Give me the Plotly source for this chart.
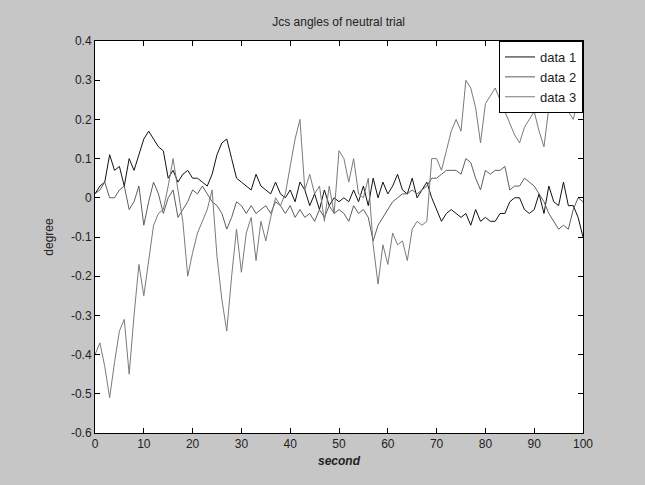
import plotly.graph_objects as go

seconds = list(range(0, 101))

data1 = [0.01, 0.03, 0.04, 0.11, 0.07, 0.08, 0.03, 0.10, 0.07, 0.11,
         0.15, 0.17, 0.15, 0.13, 0.12, 0.05, 0.07, 0.04, 0.06, 0.07,
         0.05, 0.05, 0.04, 0.03, 0.06, 0.11, 0.14, 0.15, 0.10, 0.05,
         0.04, 0.03, 0.02, 0.06, 0.03, 0.02, 0.01, 0.04, 0.01, 0.00,
         0.02, -0.01, 0.04, 0.02, -0.02, 0.01, -0.03, 0.02, -0.02, 0.00,
         -0.01, 0.00, -0.01, 0.02, -0.01, 0.03, -0.02, 0.05, 0.00, 0.04,
         0.01, 0.03, 0.06, 0.02, 0.01, 0.05, 0.00, 0.02, 0.04, 0.00,
         -0.03, -0.06, -0.04, -0.03, -0.04, -0.05, -0.04, -0.07, -0.03, -0.06,
         -0.05, -0.06, -0.06, -0.04, -0.04, -0.01, 0.00, 0.00, -0.03, -0.04,
         -0.03, 0.01, -0.04, 0.03, -0.01, -0.02, 0.04, -0.02, -0.02, -0.05,
         -0.10]

data2 = [0.01, 0.02, 0.04, 0.00, 0.00, 0.02, 0.03, -0.03, -0.01, 0.03,
         -0.07, -0.01, 0.04, 0.01, -0.04, 0.00, 0.02, -0.05, -0.03, -0.01,
         0.02, 0.01, 0.03, 0.01, -0.01, -0.02, -0.04, -0.08, -0.05, -0.01,
         -0.02, -0.04, -0.02, -0.04, -0.03, -0.02, -0.04, -0.01, -0.02, -0.04,
         -0.02, -0.05, -0.03, -0.05, -0.04, -0.06, -0.03, -0.05, -0.02, -0.04,
         -0.03, -0.04, -0.06, -0.02, -0.04, -0.03, -0.05, -0.11, -0.07, -0.05,
         -0.03, -0.01, 0.00, 0.01, 0.01, 0.02, 0.01, 0.02, 0.03, 0.05,
         0.05, 0.06, 0.07, 0.07, 0.07, 0.06, 0.10, 0.09, 0.05, 0.02,
         0.07, 0.06, 0.07, 0.07, 0.08, 0.02, 0.03, 0.03, 0.05, 0.04,
         0.03, 0.01, -0.01, -0.04, -0.06, -0.08, -0.07, -0.08, -0.03, 0.00,
         -0.01]

data3 = [-0.40, -0.37, -0.43, -0.51, -0.42, -0.34, -0.31, -0.45, -0.30, -0.17,
         -0.25, -0.16, -0.07, -0.04, -0.03, 0.03, 0.10, 0.02, -0.06, -0.20,
         -0.14, -0.09, -0.06, -0.03, 0.02, -0.15, -0.26, -0.34, -0.20, -0.08,
         -0.19, -0.09, -0.05, -0.16, -0.06, -0.11, -0.05, 0.00, -0.02, 0.01,
         0.08, 0.15, 0.20, 0.02, 0.06, 0.01, 0.03, -0.06, 0.03, -0.04,
         0.12, 0.10, 0.04, 0.10, 0.01, 0.00, 0.05, -0.12, -0.22, -0.12,
         -0.17, -0.09, -0.12, -0.11, -0.16, -0.08, -0.06, -0.07, -0.06, 0.10,
         0.10, 0.07, 0.12, 0.17, 0.20, 0.17, 0.30, 0.28, 0.23, 0.14,
         0.24, 0.26, 0.28, 0.25, 0.22, 0.19, 0.16, 0.14, 0.18, 0.20,
         0.22, 0.17, 0.13, 0.23, 0.28, 0.27, 0.25, 0.22, 0.20, 0.25,
         0.29]

series = [("data 1", data1, "#111111"),
          ("data 2", data2, "#5e5e5e"),
          ("data 3", data3, "#7a7a7a")]

fig = go.Figure()
for name, vals, col in series:
    fig.add_trace(go.Scatter(x=seconds, y=vals, mode="lines", name=name,
                             line=dict(color=col, width=1)))

axis_common = dict(showgrid=False, zeroline=False, showline=True, mirror="ticks",
                   linecolor="black", linewidth=1, ticks="inside", ticklen=5,
                   tickcolor="black", tickfont=dict(family="Arial", size=12, color="#222"))

fig.update_layout(
    width=645, height=485,
    paper_bgcolor="#c6c6c6", plot_bgcolor="white",
    margin=dict(l=95, r=62, t=41, b=52),
    title=dict(text="Jcs angles of neutral trial", x=0.525, xanchor="center",
               y=0.955, yanchor="middle",
               font=dict(family="Arial", size=12, color="#222")),
    xaxis=dict(range=[0, 100], tickvals=list(range(0, 101, 10)),
               title=dict(text="<b><i>second</i></b>", standoff=6,
                          font=dict(family="Arial", size=12, color="#222")),
               **axis_common),
    yaxis=dict(range=[-0.6, 0.4], tickvals=[0.4, 0.3, 0.2, 0.1, 0, -0.1, -0.2, -0.3, -0.4, -0.5, -0.6],
               ticktext=["0.4", "0.3", "0.2", "0.1", "0", "-0.1", "-0.2", "-0.3", "-0.4", "-0.5", "-0.6"],
               title=dict(text="degree", standoff=14,
                          font=dict(family="Arial", size=12, color="#222")),
               **axis_common),
    legend=dict(x=1, y=1, xanchor="right", yanchor="top",
                bgcolor="white", bordercolor="black", borderwidth=1,
                font=dict(family="Arial", size=13, color="#222"),
                tracegroupgap=0, itemwidth=30),
    showlegend=True,
)

fig.write_html("out.html")
